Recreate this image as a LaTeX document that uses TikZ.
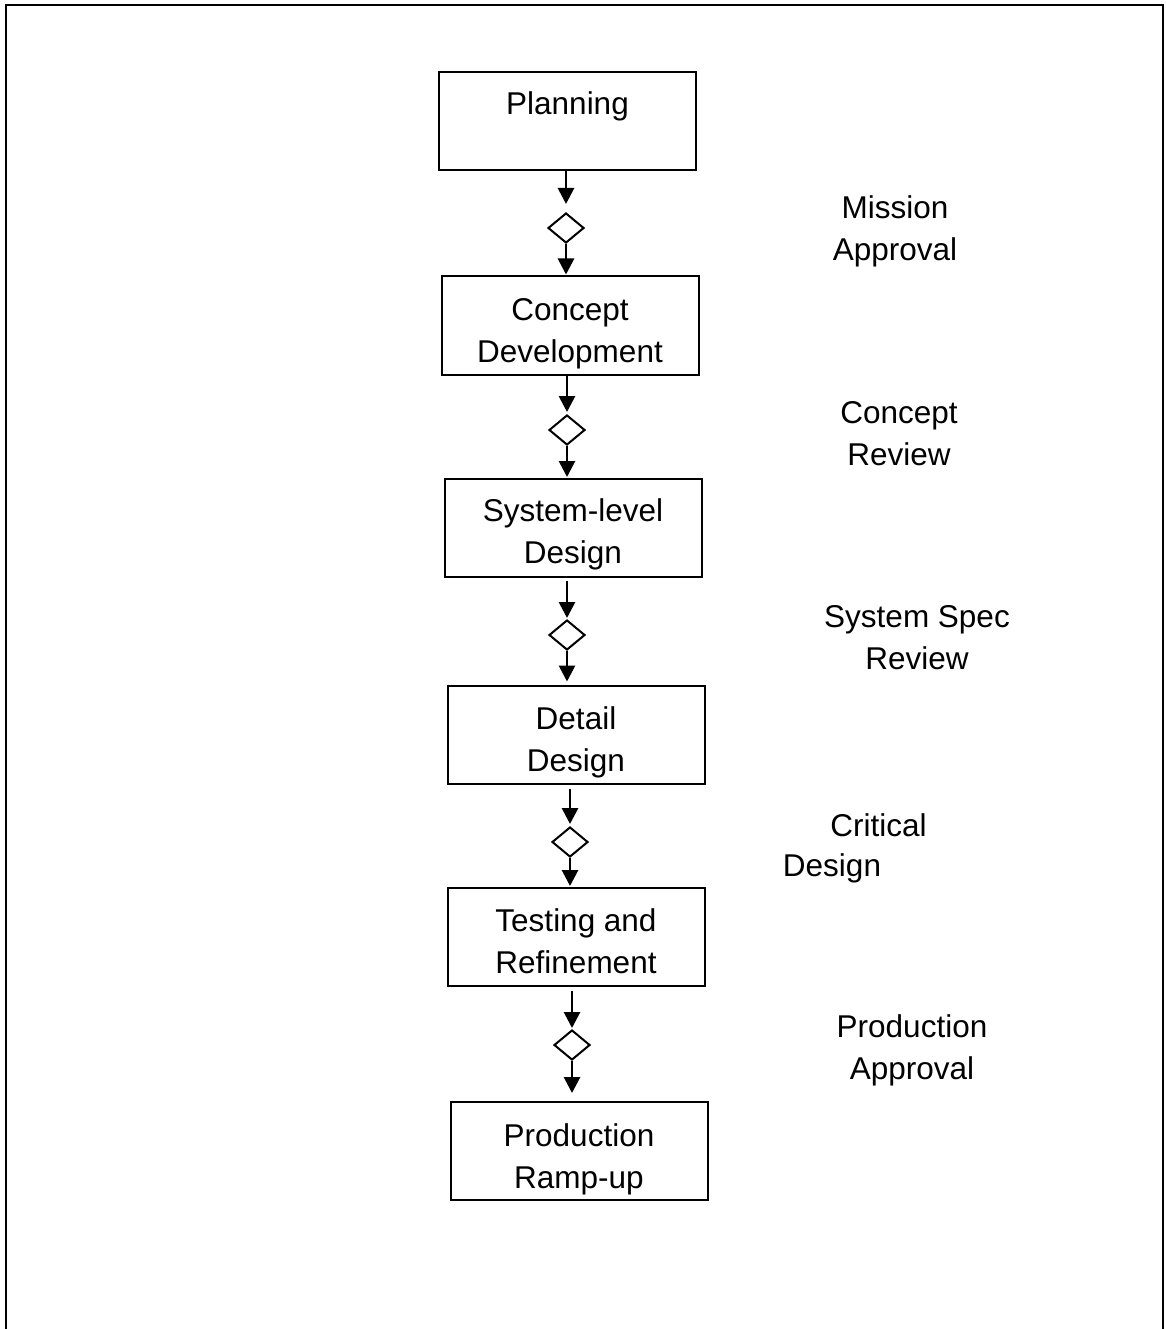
\documentclass[tikz,border=0pt]{standalone}
\usepackage{fontspec}
\setmainfont{Liberation Sans}
\usetikzlibrary{shapes.geometric,arrows.meta}
\begin{document}
\begin{tikzpicture}[x=1pt,y=-1pt,
  every node/.style={font=\fontsize{31.5}{42}\selectfont},
  stagebox/.style={draw,line width=2pt,minimum width=257pt,minimum height=98pt,inner sep=0pt},
  boxtext/.style={align=center,inner sep=0pt},
  gate/.style={draw,diamond,line width=2pt,minimum width=36pt,minimum height=30pt,inner sep=0pt},
  lbl/.style={align=center,inner sep=0pt},
  flow/.style={line width=2.8pt,-{Triangle[width=16pt,length=16pt]}}
]
\useasboundingbox (0,0) rectangle (1165,1329);
\draw[line width=2pt] (6,1330) -- (6,5) -- (1163,5) -- (1163,1330);

\node[stagebox,label={[boxtext,name=planT,yshift=-3pt]center:{Planning\\\phantom{X}}}] (plan) at (567.5,121.5) {};
\node[stagebox,label={[boxtext,name=conceptT,yshift=-8pt]center:{Concept\\Development}}] (concept) at (570,325.5) {};
\node[stagebox,label={[boxtext,name=syslevelT,yshift=-6pt]center:{System-level\\Design}}] (syslevel) at (573,528) {};
\node[stagebox,label={[boxtext,name=detailT,yshift=-8pt]center:{Detail\\Design}}] (detail) at (576,734.5) {};
\node[stagebox,label={[boxtext,name=testingT,yshift=-4pt]center:{Testing and\\Refinement}}] (testing) at (576,937) {};
\node[stagebox,label={[boxtext,name=rampT,yshift=-8pt]center:{Production\\Ramp-up}}] (ramp) at (579,1151) {};

\node[gate] (d1) at (566,228) {};
\node[gate] (d2) at (567,430) {};
\node[gate] (d3) at (567,635) {};
\node[gate] (d4) at (570,842) {};
\node[gate] (d5) at (572,1045) {};

\draw[flow,shorten >=8pt] (d1 |- plan.south) -- (d1.north);
\draw[flow,shorten >=1pt] (d1.south) -- (d1 |- concept.north);
\draw[flow,shorten >=2pt] (d2 |- concept.south) -- (d2.north);
\draw[flow,shorten >=1pt] (d2.south) -- (d2 |- syslevel.north);
\draw[flow,shorten <=3pt,shorten >=1pt] (d3 |- syslevel.south) -- (d3.north);
\draw[flow,shorten >=3pt] (d3.south) -- (d3 |- detail.north);
\draw[flow,shorten <=4pt,shorten >=2pt] (d4 |- detail.south) -- (d4.north);
\draw[flow,shorten >=1pt] (d4.south) -- (d4 |- testing.north);
\draw[flow,shorten <=4pt,shorten >=1pt] (d5 |- testing.south) -- (d5.north);
\draw[flow,shorten >=8pt] (d5.south) -- (d5 |- ramp.north);

\node[lbl] (l1) at (895,231) {Mission\\Approval};
\node[lbl] (l2) at (899,434) {Concept\\Review};
\node[lbl] (l3) at (917,638) {System Spec\\Review};
\node[lbl] (l4a) at (878.5,825) {Critical};
\node[lbl] (l4b) at (832,868) {Design};
\node[lbl] (l5) at (912,1050) {Production\\Approval};
\end{tikzpicture}
\end{document}
